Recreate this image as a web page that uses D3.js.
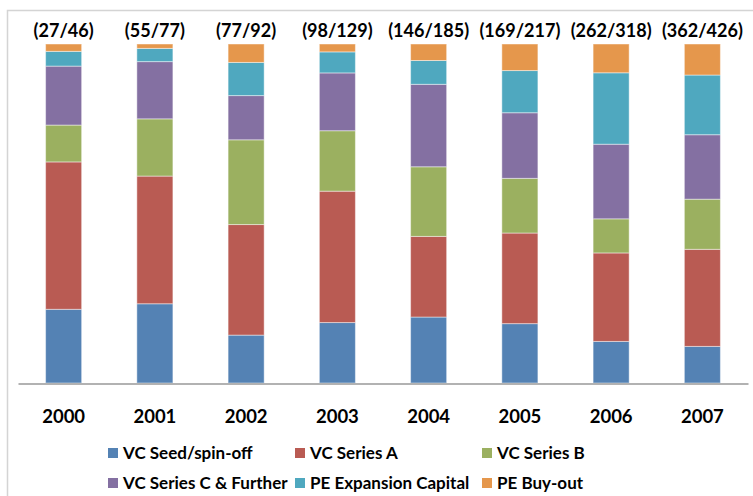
<!DOCTYPE html>
<html>
<head>
<meta charset="utf-8">
<script src="https://cdn.jsdelivr.net/npm/d3@7"></script>
<style>
  body { margin: 0; background: #fff; }
  text { font-family: Lato, "Open Sans", sans-serif; font-weight: bold; fill: #000; }
</style>
</head>
<body>
<div id="chart"></div>
<script>
"use strict"

const years = ["2000", "2001", "2002", "2003", "2004", "2005", "2006", "2007"]
const topLabels = ["(27/46)", "(55/77)", "(77/92)", "(98/129)", "(146/185)", "(169/217)", "(262/318)", "(362/426)"]

const seriesNames = ["VC Seed/spin-off", "VC Series A", "VC Series B", "VC Series C & Further", "PE Expansion Capital", "PE Buy-out"]
const seriesColors = ["#5482B4", "#B95B53", "#9BB060", "#8470A2", "#4FA8BF", "#E5974C"]

// deal counts per stage
const seed      = [10, 18, 13, 23, 36, 38, 39, 46]
const seriesA   = [20, 29, 30, 50, 44, 58, 83, 122]
const seriesB   = [5, 13, 23, 23, 38, 35, 32, 63]
const seriesC   = [8, 13, 12, 22, 45, 42, 70, 81]
const expansion = [2, 3, 9, 8, 13, 27, 67, 75]
const buyout    = [1, 1, 5, 3, 9, 17, 27, 39]

const columns = [seed, seriesA, seriesB, seriesC, expansion, buyout]

const width = 753, height = 496
const plot = { left: 18, right: 748, top: 44, bottom: 383 }

const rows = years.map((y, i) => {
  let row = { year: y }
  seriesNames.forEach((name, j) => { row[name] = columns[j][i] })
  return row
})

const stack = d3.stack()
  .keys(seriesNames)
  .offset(d3.stackOffsetExpand)

const layers = stack(rows)

const x = d3.scaleBand()
  .domain(years)
  .range([plot.left, plot.right])
  .paddingInner(0.605)
  .paddingOuter(0.3025)

const y = d3.scaleLinear()
  .domain([0, 1])
  .range([plot.bottom, plot.top])

const color = d3.scaleOrdinal().domain(seriesNames).range(seriesColors)

const svg = d3.select("#chart").append("svg")
  .attr("width", width)
  .attr("height", height)

// chart frame (top and left edges visible)
svg.append("path")
  .attr("d", `M7.5,${height} V10.5 H${width}`)
  .attr("fill", "none")
  .attr("stroke", "#d4d4d4")
  .attr("stroke-width", 1.5)

svg.append("g")
  .selectAll("g")
  .data(layers)
  .join("g")
    .attr("fill", (d) => color(d.key))
  .selectAll("rect")
  .data((d) => d)
  .join("rect")
    .attr("x", (d) => x(d.data.year))
    .attr("width", x.bandwidth())
    .attr("y", (d) => y(d[1]))
    .attr("height", (d) => y(d[0]) - y(d[1]))
    .attr("stroke", "rgba(255,255,255,0.45)")
    .attr("stroke-width", 1)

// category axis
const xAxis = svg.append("g")
  .attr("transform", `translate(0,${plot.bottom + 0.5})`)
  .call(d3.axisBottom(x).tickSize(0).tickPadding(26))

xAxis.select(".domain").attr("stroke", "#999").attr("stroke-width", 1.5)
xAxis.selectAll("text")
  .attr("font-size", "18.5px")
  .attr("font-family", "Lato, sans-serif")
  .attr("font-weight", "bold")
  .attr("fill", "#000")

// totals above the bars
svg.append("g")
  .selectAll("text")
  .data(years)
  .join("text")
    .attr("x", (d) => x(d) + x.bandwidth() / 2)
    .attr("y", 36.5)
    .attr("text-anchor", "middle")
    .attr("font-size", "18px")
    .text((d, i) => topLabels[i])

// legend: 3 columns, 2 rows
const legend = svg.append("g")
  .selectAll("g")
  .data(seriesNames)
  .join("g")
    .attr("transform", (d, i) => `translate(${108 + (i % 3) * 187},${448 + Math.floor(i / 3) * 30})`)

legend.append("rect")
  .attr("width", 10)
  .attr("height", 10)
  .attr("fill", (d) => color(d))

legend.append("text")
  .attr("x", 15)
  .attr("y", 11)
  .attr("font-size", "17px")
  .text((d) => d)
</script>
</body>
</html>
